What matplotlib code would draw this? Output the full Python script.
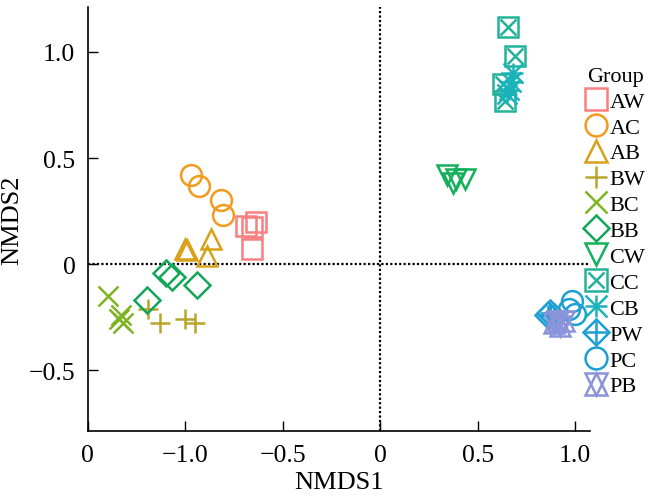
import matplotlib
matplotlib.use('Agg')
import matplotlib.pyplot as plt
from matplotlib.lines import Line2D

plt.rcParams['font.family'] = ['Liberation Serif', 'DejaVu Serif']

groups = ['AW', 'AC', 'AB', 'BW', 'BC', 'BB', 'CW', 'CC', 'CB', 'PW', 'PC', 'PB']

aw_x = [-0.69, -0.64, -0.66, -0.66]
aw_y = [0.18, 0.20, 0.175, 0.07]
ac_x = [-0.97, -0.93, -0.815, -0.805]
ac_y = [0.42, 0.37, 0.30, 0.23]
ab_x = [-1.0, -0.99, -0.87, -0.89]
ab_y = [0.07, 0.065, 0.12, 0.04]
bw_x = [-1.19, -1.13, -1.0, -0.95]
bw_y = [-0.21, -0.28, -0.26, -0.28]
bc_x = [-1.395, -1.33, -1.32, -1.34]
bc_y = [-0.15, -0.24, -0.28, -0.26]
bb_x = [-1.10, -1.07, -0.94, -1.195]
bb_y = [-0.04, -0.06, -0.10, -0.17]
cw_x = [0.34, 0.375, 0.435, 0.39]
cw_y = [0.42, 0.38, 0.40, 0.40]
cc_x = [0.656, 0.69, 0.63, 0.64]
cc_y = [1.12, 0.98, 0.85, 0.77]
cb_x = [0.67, 0.65, 0.68, 0.66]
cb_y = [0.86, 0.80, 0.90, 0.82]
pw_x = [0.86, 0.89, 0.87]
pw_y = [-0.24, -0.25, -0.23]
pc_x = [0.985, 1.0, 0.97]
pc_y = [-0.175, -0.235, -0.21]
pb_x = [0.91, 0.94, 0.89, 0.92]
pb_y = [-0.27, -0.27, -0.28, -0.29]

xs = [aw_x, ac_x, ab_x, bw_x, bc_x, bb_x, cw_x, cc_x, cb_x, pw_x, pc_x, pb_x]
ys = [aw_y, ac_y, ab_y, bw_y, bc_y, bb_y, cw_y, cc_y, cb_y, pw_y, pc_y, pb_y]

colors = ['#F88080', '#F39A1E', '#D9A11A', '#B8A52A', '#7DB424', '#13A55A',
          '#14B05A', '#22B29A', '#1AB3B9', '#1C9FD4', '#1C9FD4', '#8B94DA']
# each group may use several overlaid markers (R pch 7, 8, 9, 11)
markers = [['s'], ['o'], ['^'], ['+'], ['x'], ['D'], ['v'],
           ['s', 'x'], ['+', 'x'], ['D', '+'], ['o'], ['^', 'v']]

xtick_pos = [-1.5, -1.0, -0.5, 0, 0.5, 1.0]
xtick_lab = ['0', '\u22121.0', '\u22120.5', '0', '0.5', '1.0']
ytick_pos = [-0.5, 0, 0.5, 1.0]
ytick_lab = ['\u22120.5', '0', '0.5', '1.0']

fig = plt.figure(figsize=(6.61, 5.02), dpi=100)
ax = fig.add_axes([0.133, 0.139, 0.76, 0.845])

ms = 15
mew = 1.8
handles = []
for g, x, y, c, mk in zip(groups, xs, ys, colors, markers):
    hs = []
    for m in mk:
        size = ms
        if m == 'x' and mk[0] == 's':
            size = ms * 0.75
        if m == 'D':
            size = ms * 0.85
        ax.plot(x, y, linestyle='none', marker=m, markersize=size,
                markerfacecolor='none', markeredgecolor=c, markeredgewidth=mew)
        hs.append(Line2D([], [], linestyle='none', marker=m, markersize=size * 1.05,
                         markerfacecolor='none', markeredgecolor=c,
                         markeredgewidth=mew))
    handles.append(tuple(hs))

ax.axhline(0, color='black', linestyle=(0, (1, 1)), linewidth=1.6, zorder=0)
ax.axvline(0, color='black', linestyle=(0, (1, 1)), linewidth=1.6, zorder=0)

ax.set_xlim(-1.5, 1.077)
ax.set_ylim(-0.788, 1.212)
ax.set_xticks(xtick_pos)
ax.set_xticklabels(xtick_lab)
ax.set_yticks(ytick_pos)
ax.set_yticklabels(ytick_lab)
ax.tick_params(direction='in', length=7, width=1, labelsize=18.5, pad=9)
for s in ['top', 'right']:
    ax.spines[s].set_visible(False)
for s in ['left', 'bottom']:
    ax.spines[s].set_linewidth(1.2)

ax.set_xlabel('NMDS1', fontsize=19, labelpad=4)
ax.set_ylabel('NMDS2', fontsize=19, labelpad=4)

leg = fig.legend(handles, groups, title='Group', loc='upper left',
                 bbox_to_anchor=(0.885, 0.865), frameon=False, fontsize=16,
                 title_fontsize=16, handlelength=1.0, handletextpad=0.1,
                 labelspacing=0.24, borderpad=0, borderaxespad=0)

fig.savefig('out.png', dpi=100)
